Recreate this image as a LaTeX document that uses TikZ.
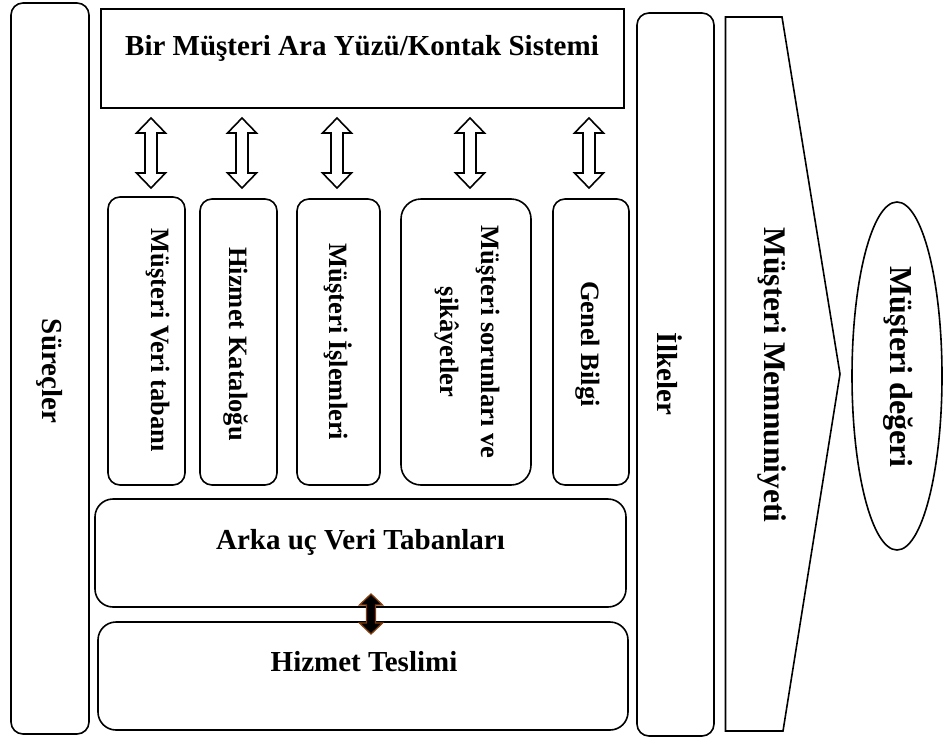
\documentclass[tikz,border=0pt]{standalone}
\usepackage{fontspec}
\setmainfont{Liberation Serif}
\usetikzlibrary{shapes.geometric,calc}
\definecolor{arrowbrown}{RGB}{132,60,12}
\newcommand{\mydblarrow}[5]{% top, bottom, half head width, half shaft width, head length
  \draw[ln] let \p1=(#1), \p2=(#2) in
    (\x1,\y1) -- (\x1+#3,\y1-#5) -- (\x1+#4,\y1-#5) -- (\x1+#4,\y2+#5) -- (\x1+#3,\y2+#5)
    -- (\x1,\y2) -- (\x1-#3,\y2+#5) -- (\x1-#4,\y2+#5) -- (\x1-#4,\y1-#5) -- (\x1-#3,\y1-#5) -- cycle;}
\begin{document}
\begin{tikzpicture}[x=1pt,y=-1pt,
  ln/.style={line width=1.6pt, line join=miter},
  box/.style={draw, line width=1.6pt, inner sep=0pt, rounded corners=12pt},
  sq/.style={draw, line width=1.6pt, inner sep=0pt},
  big/.style={font=\bfseries\fontsize{29}{33}\selectfont, inner sep=0pt},
  small/.style={font=\bfseries\fontsize{26.5}{41}\selectfont, inner sep=0pt, align=center, rotate=-90},
  vert/.style={font=\bfseries\fontsize{29}{33}\selectfont, inner sep=0pt, rotate=-90},
  huge/.style={font=\bfseries\fontsize{31.5}{36}\selectfont, inner sep=0pt, rotate=-90}]
\useasboundingbox (0,0) rectangle (944,739);

% outer columns
\node[box, minimum width=78pt, minimum height=731pt] (surec) at (50,368.5) {};
\node[vert] (surect) at (50,371) {Süreçler};
\node[box, minimum width=77pt, minimum height=723pt] (ilke) at (675.5,374.5) {};
\node[vert] (ilket) at (670,374) {İlkeler};

% top interface box
\node[sq, minimum width=523pt, minimum height=99pt] (top) at (362.5,58.5) {};
\node[big, anchor=base] (topt) at (362,55) {Bir Müşteri Ara Yüzü/Kontak Sistemi};

% small boxes
\node[box, minimum width=77pt, minimum height=288pt] (b1) at (146.5,341) {};
\node[box, minimum width=77pt, minimum height=286pt] (b2) at (238.5,342) {};
\node[box, minimum width=83pt, minimum height=286pt] (b3) at (338.5,342) {};
\node[box, rounded corners=20pt, minimum width=130pt, minimum height=286pt] (b4) at (466,342) {};
\node[box, minimum width=76pt, minimum height=286pt] (b5) at (591,342) {};
\node[small] (b1t) at (158,340) {Müşteri Veri tabanı};
\node[small] (b2t) at (236,344) {Hizmet Kataloğu};
\node[small] (b3t) at (338,342) {Müşteri İşlemleri};
\node[small] (b4t) at (467,342) {Müşteri sorunları ve\\şikâyetler};
\node[small] (b5t) at (588,344) {Genel Bilgi};

% hollow double arrows between top box and small boxes
\coordinate (upA) at (151,118); \coordinate (dnA) at (151,188);
\coordinate (upB) at (242,118); \coordinate (dnB) at (242,188);
\coordinate (upC) at (337,118); \coordinate (dnC) at (337,188);
\coordinate (upD) at (470,118); \coordinate (dnD) at (470,188);
\coordinate (upE) at (589,118); \coordinate (dnE) at (589,188);
\mydblarrow{upA}{dnA}{14.5pt}{6pt}{15pt}
\mydblarrow{upB}{dnB}{14.5pt}{6pt}{15pt}
\mydblarrow{upC}{dnC}{14.5pt}{6pt}{15pt}
\mydblarrow{upD}{dnD}{14.5pt}{6pt}{15pt}
\mydblarrow{upE}{dnE}{14.5pt}{6pt}{15pt}

% back-end and delivery
\node[box, rounded corners=18pt, minimum width=531pt, minimum height=108pt] (arka) at (360.5,553) {};
\node[big, anchor=base] (arkat) at (360.5,549) {Arka uç Veri Tabanları};
\node[box, rounded corners=18pt, minimum width=530pt, minimum height=108pt] (hiz) at (363,676) {};
\node[big, anchor=base] (hizt) at (364,671) {Hizmet Teslimi};

% filled double arrow
\coordinate (ft) at (371,594);
\coordinate (fb) at (371,634);
\draw[line width=1.3pt, draw=arrowbrown, fill=black, line join=miter] let \p1=(ft), \p2=(fb) in
  (\x1,\y1) -- (\x1+11.5pt,\y1-11pt) -- (\x1+4.5pt,\y1-11pt) -- (\x1+4.5pt,\y2+11pt) -- (\x1+11.5pt,\y2+11pt)
  -- (\x1,\y2) -- (\x1-11.5pt,\y2+11pt) -- (\x1-4.5pt,\y2+11pt) -- (\x1-4.5pt,\y1-11pt) -- (\x1-11.5pt,\y1-11pt) -- cycle;

% satisfaction chevron
\coordinate (m1) at (725.5,17);
\coordinate (m2) at (782,17);
\coordinate (m3) at (840,374);
\coordinate (m4) at (783,731);
\coordinate (m5) at (725.5,731);
\draw[ln] (m1) -- (m2) -- (m3) -- (m4) -- (m5) -- cycle;
\node[huge] (memt) at (772,375) {Müşteri Memnuniyeti};

% value ellipse
\node[ellipse, draw, line width=1.6pt, inner sep=0pt, minimum width=90pt, minimum height=348pt] (deger) at (897,376) {};
\node[huge, font=\bfseries\fontsize{32}{36}\selectfont] (degert) at (898,367) {Müşteri değeri};
\end{tikzpicture}
\end{document}
